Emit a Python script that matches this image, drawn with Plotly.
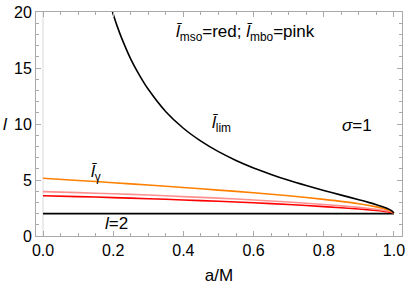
import plotly.graph_objects as go

# l_lim curve (black)
a_lim = [0.198, 0.21, 0.225, 0.25, 0.275, 0.3, 0.35, 0.4, 0.45, 0.5, 0.55, 0.6, 0.65, 0.7,
         0.75, 0.8, 0.85, 0.9, 0.93, 0.95, 0.97, 0.985, 0.995, 1.0]
l_lim = [20.0, 18.85, 17.6, 15.8, 14.35, 13.1, 11.1, 9.62, 8.47, 7.53, 6.75, 6.08, 5.5, 4.97,
         4.5, 4.06, 3.65, 3.24, 2.98, 2.79, 2.58, 2.4, 2.22, 2.06]

a_grid = [0.0, 0.1, 0.2, 0.3, 0.4, 0.5, 0.6, 0.7, 0.8, 0.9, 0.95, 0.97, 0.99, 1.0]
l_gamma = [5.15, 4.96, 4.76, 4.55, 4.33, 4.1, 3.86, 3.59, 3.27, 2.88, 2.6, 2.45, 2.25, 2.06]
l_mbo = [3.96, 3.87, 3.77, 3.66, 3.52, 3.38, 3.22, 3.03, 2.81, 2.56, 2.39, 2.3, 2.18, 2.06]
l_mso = [3.6, 3.52, 3.43, 3.33, 3.22, 3.1, 2.97, 2.81, 2.62, 2.41, 2.28, 2.21, 2.13, 2.06]
l_two = [2.0] * len(a_grid)

xticks = [0.0, 0.2, 0.4, 0.6, 0.8, 1.0]
xticklabels = ["0.0", "0.2", "0.4", "0.6", "0.8", "1.0"]
yticks = [0, 5, 10, 15, 20]

FAM = "Liberation Sans"

fig = go.Figure()
fig.add_trace(go.Scatter(x=a_grid, y=l_two, mode="lines", line=dict(color="black", width=1.6)))
fig.add_trace(go.Scatter(x=a_grid, y=l_mso, mode="lines", line=dict(color="#ff0000", width=1.6, shape="spline", smoothing=0.6)))
fig.add_trace(go.Scatter(x=a_grid, y=l_mbo, mode="lines", line=dict(color="#ff9090", width=1.6, shape="spline", smoothing=0.6)))
fig.add_trace(go.Scatter(x=a_grid, y=l_gamma, mode="lines", line=dict(color="#ff8000", width=1.6, shape="spline", smoothing=0.6)))
fig.add_trace(go.Scatter(x=a_lim, y=l_lim, mode="lines", line=dict(color="black", width=1.6, shape="spline", smoothing=0.6)))

ann = [
    dict(x=0.578, y=18.15, text="<i>l̄</i><sub>mso</sub>=red; <i>l̄</i><sub>mbo</sub>=pink"),
    dict(x=0.51, y=10.0, text="<i>l̄</i><sub>lim</sub>"),
    dict(x=0.15, y=5.6, text="<i>l̄</i><sub>γ</sub>"),
    dict(x=0.21, y=1.15, text="<i>l</i>=2"),
    dict(x=0.895, y=9.85, text="<i>σ</i>=1"),
]
for a in ann:
    fig.add_annotation(x=a["x"], y=a["y"], text=a["text"], showarrow=False,
                       font=dict(family=FAM, size=17, color="black"))

# y-axis title placed as an annotation at the far left
fig.add_annotation(x=-0.096, xref="paper", xanchor="left", y=10, yref="y", text="<i>l</i>",
                   showarrow=False, font=dict(family=FAM, size=17, color="black"))

axis_common = dict(
    showline=True, linecolor="#aaaaaa", linewidth=1, mirror="allticks",
    ticks="inside", ticklen=5, tickcolor="#aaaaaa", showgrid=False, automargin=False,
    tickfont=dict(family=FAM, size=16, color="black"), ticklabeloverflow="allow",
)
fig.update_xaxes(range=[-0.02, 1.023], tickvals=xticks, ticktext=xticklabels,
                 zeroline=False,
                 minor=dict(ticks="inside", ticklen=3, tickcolor="#aaaaaa", dtick=0.05, tick0=0, showgrid=False),
                 title=dict(text="a/M", font=dict(family=FAM, size=17, color="black"), standoff=10),
                 **axis_common)
fig.update_yaxes(range=[0, 20], tickvals=yticks, zeroline=False,
                 minor=dict(ticks="inside", ticklen=3, tickcolor="#aaaaaa", dtick=1, tick0=0, showgrid=False),
                 **axis_common)
fig.add_shape(type="line", x0=0, x1=0, y0=0, y1=20, xref="x", yref="y",
              line=dict(color="#d8d8d8", width=1), layer="below")

fig.update_layout(width=409, height=291, margin=dict(l=36, r=7, t=12, b=55),
                  plot_bgcolor="white", paper_bgcolor="white", showlegend=False)
# remove the browser's default 8px body margin so the figure fills the window
fig.write_html("out.html", config={"displayModeBar": False},
               post_script="document.body.style.margin='0px';")
